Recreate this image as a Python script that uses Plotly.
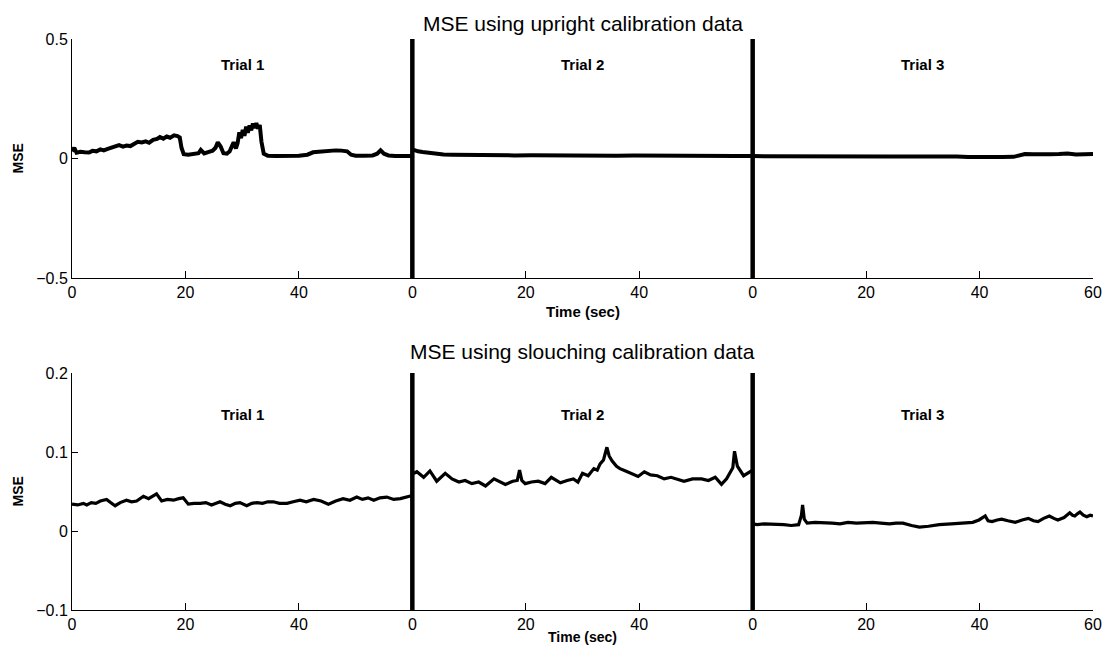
import plotly.graph_objects as go

# ---------------- data ----------------
trial_names = ["Trial 1", "Trial 2", "Trial 3"]
trial_length = 60
x_tickvals = [0, 20, 40, 60, 80, 100, 120, 140, 160, 180]
x_ticktext = ["0", "20", "40", "0", "20", "40", "0", "20", "40", "60"]

# Upper panel: MSE using upright calibration data
up_t1_t = [0, 0.4, 0.8, 1.5, 2.2, 3, 3.6, 4.3, 5, 5.6, 6.3, 7, 7.6, 8.3, 9, 9.6, 10.3, 11, 11.6,
           12.3, 13, 13.6, 14.3, 15, 15.5, 16.1, 16.7, 17.3, 18, 18.6, 19, 19.3, 19.7, 20.5, 21.5,
           22.3, 22.7, 23.3, 24, 24.8, 25.3, 25.7, 26.2, 26.7, 27.3, 27.8, 28.2, 28.5, 28.9, 29.2,
           29.5, 29.8, 30.1, 30.4, 30.7, 31, 31.3, 31.6, 31.9, 32.2, 32.5, 32.8, 33.1, 33.4, 33.8,
           34.5, 36, 38, 40, 41.5, 42.5, 43.5, 44.5, 45.5, 46.5, 47.5, 48.5, 49.2, 50, 51.5, 53,
           53.8, 54.4, 55, 55.8, 57, 58.5, 60]
up_t1_v = [0.030, 0.045, 0.024, 0.028, 0.026, 0.025, 0.032, 0.030, 0.038, 0.034, 0.040, 0.045, 0.052,
           0.056, 0.050, 0.054, 0.052, 0.064, 0.070, 0.067, 0.072, 0.066, 0.078, 0.082, 0.090, 0.083,
           0.092, 0.087, 0.097, 0.094, 0.088, 0.045, 0.018, 0.016, 0.018, 0.022, 0.036, 0.021, 0.027,
           0.033, 0.045, 0.068, 0.050, 0.022, 0.020, 0.030, 0.052, 0.068, 0.042, 0.065, 0.110, 0.085,
           0.120, 0.095, 0.133, 0.108, 0.138, 0.118, 0.146, 0.128, 0.148, 0.125, 0.140, 0.070, 0.020,
           0.012, 0.011, 0.011, 0.012, 0.016, 0.026, 0.028, 0.031, 0.030, 0.034, 0.033, 0.030, 0.016,
           0.012, 0.012, 0.013, 0.020, 0.034, 0.020, 0.013, 0.011, 0.010, 0.010]

up_t2_t = [0, 0.4, 1, 1.8, 2.6, 3.5, 4.5, 5.5, 7, 9, 12, 15, 18, 21, 24, 27, 30, 33, 36, 39, 42,
           45, 48, 51, 54, 57, 60]
up_t2_v = [0.038, 0.034, 0.030, 0.027, 0.024, 0.021, 0.019, 0.017, 0.016, 0.015, 0.014, 0.014, 0.013,
           0.014, 0.013, 0.013, 0.012, 0.013, 0.012, 0.013, 0.012, 0.012, 0.013, 0.012, 0.012, 0.011,
           0.011]

up_t3_t = [0, 4, 8, 12, 16, 20, 24, 28, 32, 36, 38, 40, 42, 44, 46, 47, 48, 49.5, 51, 52.5, 54,
           55.5, 57, 58.5, 60]
up_t3_v = [0.010, 0.009, 0.008, 0.008, 0.009, 0.008, 0.008, 0.008, 0.009, 0.008, 0.006, 0.005, 0.005,
           0.006, 0.007, 0.014, 0.019, 0.018, 0.020, 0.018, 0.019, 0.021, 0.017, 0.020, 0.019]

# Lower panel: MSE using slouching calibration data
lo_t1_t = [0, 1, 2, 2.6, 3.4, 4.2, 5, 6.1, 6.8, 7.6, 8.5, 9.6, 10.5, 11.4, 12.6, 13.5, 14.9, 15.8,
           16.8, 17.9, 18.8, 19.6, 20.5, 21.5, 22.6, 23.6, 24.6, 25.3, 26.1, 27, 27.9, 28.8, 29.6,
           30.8, 31.7, 32.6, 33.6, 34.5, 35.5, 36.6, 37.9, 39, 40.2, 41.3, 42.6, 43.9, 45.2, 46.5,
           47.8, 49, 50.2, 51.2, 52.2, 53.2, 54.3, 55.5, 56.7, 57.9, 59, 60]
lo_t1_v = [0.034, 0.033, 0.035, 0.033, 0.036, 0.035, 0.038, 0.040, 0.036, 0.032, 0.036, 0.039, 0.037,
           0.038, 0.044, 0.041, 0.047, 0.038, 0.040, 0.039, 0.041, 0.042, 0.034, 0.035, 0.035, 0.036,
           0.033, 0.035, 0.037, 0.034, 0.032, 0.035, 0.036, 0.032, 0.035, 0.036, 0.035, 0.037, 0.037,
           0.035, 0.035, 0.037, 0.039, 0.037, 0.040, 0.038, 0.034, 0.038, 0.041, 0.039, 0.043, 0.040,
           0.042, 0.039, 0.042, 0.043, 0.040, 0.041, 0.043, 0.045]

lo_t2_t = [0, 0.8, 2, 3.1, 4.3, 5.8, 7, 8.2, 9.3, 10.5, 11.7, 12.9, 14.4, 15.4, 16.4, 17.7, 18.5,
           18.9, 19.3, 19.9, 21, 22.2, 23.4, 24.5, 25.3, 26.1, 27.3, 28.4, 29.2, 30, 31, 32, 32.6,
           33.1, 33.7, 34.3, 34.7, 35.2, 36, 36.6, 37.6, 38.6, 39.8, 40.9, 42, 43.2, 44.4, 45.6,
           46.8, 47.9, 49.4, 51, 52.2, 53.4, 54.5, 55.4, 56.1, 56.5, 56.8, 57.3, 58.4, 59.2, 60]
lo_t2_v = [0.072, 0.075, 0.068, 0.076, 0.063, 0.073, 0.066, 0.062, 0.064, 0.060, 0.062, 0.057, 0.066,
           0.062, 0.059, 0.063, 0.064, 0.077, 0.064, 0.060, 0.062, 0.063, 0.060, 0.068, 0.064, 0.061,
           0.064, 0.066, 0.062, 0.073, 0.070, 0.079, 0.077, 0.085, 0.090, 0.106, 0.095, 0.089, 0.082,
           0.079, 0.076, 0.073, 0.069, 0.075, 0.071, 0.070, 0.066, 0.068, 0.065, 0.063, 0.066, 0.066,
           0.064, 0.068, 0.059, 0.066, 0.075, 0.080, 0.101, 0.082, 0.070, 0.074, 0.077]

lo_t3_t = [0, 0.8, 2, 3.1, 4.2, 5.5, 6.8, 8.1, 8.6, 8.8, 9.1, 9.6, 11, 12.5, 14, 15.4, 16.8, 18.3,
           19.8, 21.2, 22.6, 24.1, 25.3, 26.5, 28, 29.4, 31, 32.9, 35, 37.5, 38.8, 39.9, 40.5, 41,
           41.5, 42.2, 43.1, 43.9, 45, 46.3, 47.5, 48.6, 49.5, 50.3, 51.3, 52.3, 53.1, 53.8, 54.9,
           55.9, 56.4, 56.8, 57.3, 57.7, 58.3, 58.9, 59.5, 60]
lo_t3_v = [0.009, 0.008, 0.009, 0.009, 0.008, 0.008, 0.007, 0.008, 0.020, 0.033, 0.015, 0.010, 0.011,
           0.011, 0.010, 0.009, 0.011, 0.010, 0.011, 0.011, 0.010, 0.009, 0.010, 0.010, 0.007, 0.005,
           0.006, 0.008, 0.009, 0.010, 0.011, 0.014, 0.017, 0.019, 0.013, 0.012, 0.014, 0.015, 0.013,
           0.011, 0.014, 0.016, 0.013, 0.012, 0.016, 0.019, 0.016, 0.014, 0.017, 0.023, 0.020, 0.019,
           0.022, 0.024, 0.020, 0.018, 0.020, 0.019]

upper_series = [(up_t1_t, up_t1_v), (up_t2_t, up_t2_v), (up_t3_t, up_t3_v)]
lower_series = [(lo_t1_t, lo_t1_v), (lo_t2_t, lo_t2_v), (lo_t3_t, lo_t3_v)]

upper_range = [-0.5, 0.5]
upper_ticks = [-0.5, 0, 0.5]
upper_ticktext = ["\u22120.5", "0", "0.5"]
lower_range = [-0.1, 0.2]
lower_ticks = [-0.1, 0, 0.1, 0.2]
lower_ticktext = ["\u22120.1", "0", "0.1", "0.2"]

upper_title = "MSE using upright calibration data"
lower_title = "MSE using slouching calibration data"
upper_label_y = 0.395
lower_label_y = 0.148
separators = [60, 120]

# ---------------- figure ----------------
FONT = "Liberation Sans, Arial, Helvetica, sans-serif"
fig = go.Figure()

for k, (t, v) in enumerate(upper_series):
    fig.add_trace(go.Scatter(x=[k * trial_length + ti for ti in t], y=v, mode="lines",
                             line=dict(color="black", width=4), xaxis="x", yaxis="y",
                             showlegend=False, hoverinfo="skip"))
for k, (t, v) in enumerate(lower_series):
    fig.add_trace(go.Scatter(x=[k * trial_length + ti for ti in t], y=v, mode="lines",
                             line=dict(color="black", width=3.2), xaxis="x2", yaxis="y2",
                             showlegend=False, hoverinfo="skip"))

# Trial separators
for xr, yr in [("x", "y"), ("x2", "y2")]:
    for s in separators:
        fig.add_shape(type="line", xref=xr, yref=yr + " domain", x0=s, x1=s, y0=0, y1=1,
                      line=dict(color="black", width=4.5))

annotations = []
for k, name in enumerate(trial_names):
    cx = k * trial_length + trial_length / 2
    annotations.append(dict(x=cx, y=upper_label_y, xref="x", yref="y", text="<b>%s</b>" % name,
                            showarrow=False, font=dict(family=FONT, size=15, color="black")))
    annotations.append(dict(x=cx, y=lower_label_y, xref="x2", yref="y2", text="<b>%s</b>" % name,
                            showarrow=False, font=dict(family=FONT, size=15, color="black")))

TOP_D = [0.5814, 1.0]
BOT_D = [0.0, 0.415]
annotations += [
    dict(x=0.5, y=1, xref="paper", yref="paper", yshift=16, text=upper_title, showarrow=False,
         xanchor="center", yanchor="middle", font=dict(family=FONT, size=21, color="black")),
    dict(x=0.5, y=BOT_D[1], xref="paper", yref="paper", yshift=22, text=lower_title,
         showarrow=False, xanchor="center", yanchor="middle",
         font=dict(family=FONT, size=21, color="black")),
    dict(x=0, y=(TOP_D[0] + TOP_D[1]) / 2, xref="paper", yref="paper", xshift=-54, text="<b>MSE</b>",
         textangle=-90, showarrow=False, xanchor="center", yanchor="middle",
         font=dict(family=FONT, size=14, color="black")),
    dict(x=0, y=(BOT_D[0] + BOT_D[1]) / 2, xref="paper", yref="paper", xshift=-54, text="<b>MSE</b>",
         textangle=-90, showarrow=False, xanchor="center", yanchor="middle",
         font=dict(family=FONT, size=14, color="black")),
    dict(x=0.5, y=TOP_D[0], xref="paper", yref="paper", yshift=-33, text="<b>Time (sec)</b>",
         showarrow=False, xanchor="center", yanchor="middle",
         font=dict(family=FONT, size=15, color="black")),
    dict(x=0.5, y=BOT_D[0], xref="paper", yref="paper", yshift=-27, text="<b>Time (sec)</b>",
         showarrow=False, xanchor="center", yanchor="middle",
         font=dict(family=FONT, size=14, color="black")),
]

xax = dict(range=[0, 180], tickvals=x_tickvals, ticktext=x_ticktext, ticks="inside", ticklen=7,
           tickwidth=1, tickcolor="black", showline=True, linecolor="black", linewidth=1,
           mirror=False, showgrid=False, zeroline=False,
           tickfont=dict(family=FONT, size=16, color="black"))
yax = dict(ticks="inside", ticklen=6, tickwidth=1, tickcolor="black", showline=True,
           linecolor="black", linewidth=1, mirror=False, showgrid=False, zeroline=False,
           tickfont=dict(family=FONT, size=16, color="black"))

# The page body adds an 8 px margin, so the figure is sized/margined to compensate.
fig.update_layout(
    width=1103, height=638,
    margin=dict(l=64, r=9, t=31, b=36),
    paper_bgcolor="white", plot_bgcolor="white",
    showlegend=False,
    xaxis=dict(xax, domain=[0, 1], anchor="y"),
    yaxis=dict(yax, domain=TOP_D, anchor="x", range=upper_range, tickvals=upper_ticks,
               ticktext=upper_ticktext),
    xaxis2=dict(xax, domain=[0, 1], anchor="y2"),
    yaxis2=dict(yax, domain=BOT_D, anchor="x2", range=lower_range, tickvals=lower_ticks,
                ticktext=lower_ticktext),
    annotations=annotations,
)

fig.write_html("out.html")
